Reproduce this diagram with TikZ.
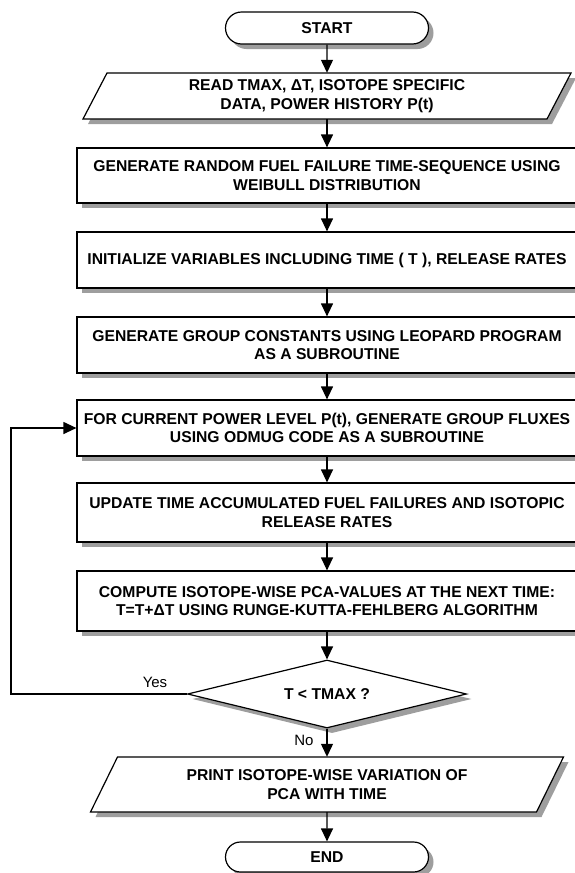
\documentclass[tikz,border=0pt]{standalone}
\usepackage{fontspec}
\setmainfont{Liberation Sans}
\usetikzlibrary{shapes.geometric,shapes.misc,arrows.meta}

\begin{document}
\begin{tikzpicture}[x=1pt,y=-1pt,
  font=\fontsize{15.7}{18.5}\selectfont\bfseries,
  shadowfill/.style={draw=none,fill=black,fill opacity=0.38},
  shadowband/.style={draw=black,draw opacity=0.38,line width=5pt,line cap=butt},
  outline/.style={draw=black,line width=1.2pt,fill=white},
  proc/.style={outline,rectangle,minimum width=500pt,minimum height=#1,inner sep=0pt,align=center},
  termshape/.style={rounded rectangle,minimum width=203pt,minimum height=32pt,inner sep=0pt},
  term/.style={outline,termshape},
  decshape/.style={diamond,aspect=4.1,minimum width=279pt,minimum height=68pt,inner sep=0pt},
  iotext/.style={rectangle,minimum width=#1,inner sep=0pt,align=center},
  link/.style={line width=1.2pt,-{Triangle[length=13pt,width=12pt]}},
  tag/.style={font=\fontsize{15}{17}\selectfont}
]
\useasboundingbox (0,0) rectangle (574,873);

% drop shadows, offset 5 right and 5 down
\node[shadowfill,termshape] (startshadow) at (332,33) {};
\path[shadowfill] (88,124) -- (112,78) -- (576,78) -- (552,124) -- cycle;
\draw[shadowband] (82,205.5) -- (582,205.5);
\draw[shadowband] (82,290.5) -- (582,290.5);
\draw[shadowband] (82,375.5) -- (582,375.5);
\draw[shadowband] (82,458.5) -- (582,458.5);
\draw[shadowband] (82,544.5) -- (582,544.5);
\draw[shadowband] (82,633.5) -- (582,633.5);
\node[shadowfill,decshape] (testshadow) at (332,699) {};
\path[shadowfill] (95.5,817) -- (122.5,762) -- (568.5,762) -- (541.5,817) -- cycle;
\node[shadowfill,termshape,minimum height=30pt] (stopshadow) at (332,862) {};

% input/output parallelograms
\draw[outline] (83,119) -- (107,73) -- (571,73) -- (547,119) -- cycle;
\draw[outline] (90.5,812) -- (117.5,757) -- (563.5,757) -- (536.5,812) -- cycle;

% terminals, steps and decision
\node[term] (start) at (327,28) {START};

\node[iotext=464pt,minimum height=46pt] (read) at (327,96)
  {READ TMAX, ΔT, ISOTOPE SPECIFIC\\DATA, POWER HISTORY P(t)};

\node[proc=55pt] (weib) at (327,175.5)
  {GENERATE RANDOM FUEL FAILURE TIME-SEQUENCE USING\\WEIBULL DISTRIBUTION};
\node[proc=56pt] (init) at (327,260)
  {INITIALIZE VARIABLES INCLUDING TIME ( T ), RELEASE RATES};
\node[proc=56pt] (leop) at (327,345)
  {GENERATE GROUP CONSTANTS USING LEOPARD PROGRAM\\AS A SUBROUTINE};
\node[proc=56pt] (flux) at (327,428)
  {FOR CURRENT POWER LEVEL P(t), GENERATE GROUP FLUXES\\USING ODMUG CODE AS A SUBROUTINE};
\node[proc=59pt] (upd) at (327,512.5)
  {UPDATE TIME ACCUMULATED FUEL FAILURES AND ISOTOPIC\\RELEASE RATES};
\node[proc=60pt] (pca) at (327,601)
  {COMPUTE ISOTOPE-WISE PCA-VALUES AT THE NEXT TIME:\\T=T+ΔT USING RUNGE-KUTTA-FEHLBERG ALGORITHM};

\node[outline,decshape] (test) at (327,694) {T < TMAX ?};

\node[iotext=446pt,minimum height=55pt] (print) at (327,784.5)
  {PRINT ISOTOPE-WISE VARIATION OF\\PCA WITH TIME};

\node[term,minimum height=30pt] (stop) at (327,857) {END};

% flow
\draw[link] (start) -- (read);
\draw[link] (read) -- (weib);
\draw[link] (weib) -- (init);
\draw[link] (init) -- (leop);
\draw[link] (leop) -- (flux);
\draw[link] (flux) -- (upd);
\draw[link] (upd) -- (pca);
\draw[link] (pca) -- (test);
\draw[link] (test) -- (print);
\draw[link] (print) -- (stop);

\coordinate (loop) at (11,694);
\draw[link] (test.west) -- (loop) |- (flux.west);

\node[tag] (yes) at (155,682) {Yes};
\node[tag] (no) at (304,740) {No};
\end{tikzpicture}
\end{document}
